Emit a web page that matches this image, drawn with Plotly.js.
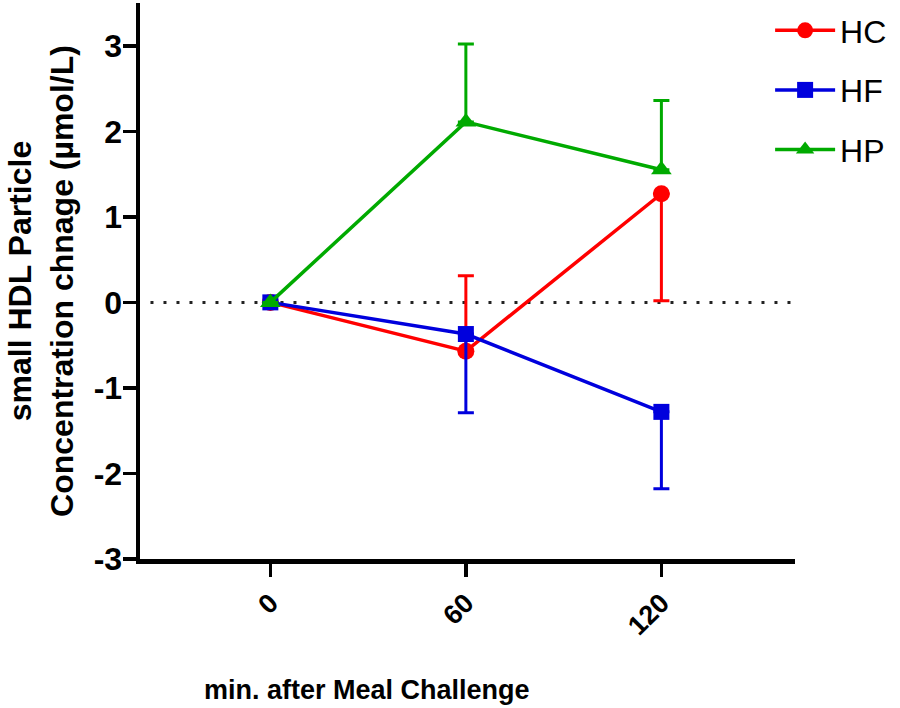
<!DOCTYPE html>
<html>
<head>
<meta charset="utf-8">
<script src="https://cdn.plot.ly/plotly-3.0.1.min.js"></script>
<style>
  html, body { margin: 0; padding: 0; background: #fff; }
  #chart { width: 900px; height: 708px; }
</style>
</head>
<body>
<div id="chart"></div>
<script>
// minutes after the meal challenge
const minutes = [0, 60, 120]
const xTickText = ['0', '60', '120']
const yTickVals = [-3, -2, -1, 0, 1, 2, 3]
const yTickText = ['-3', '-2', '-1', '0', '1', '2', '3']

// mean change and one-sided error bars (µmol/L)
const hcMean = [0, -0.57, 1.27]
const hcPlus = [0, 0.88, 0]
const hcMinus = [0, 0, 1.25]

const hfMean = [0, -0.37, -1.28]
const hfPlus = [0, 0, 0]
const hfMinus = [0, 0.92, 0.9]

const hpMean = [0, 2.11, 1.55]
const hpPlus = [0, 0.91, 0.81]
const hpMinus = [0, 0, 0]

const arial = '"Liberation Sans", Arial, sans-serif'

const makeTrace = (name, y, plus, minus, color, symbol, size) => ({
  x: minutes,
  y,
  name,
  legendgroup: name,
  type: 'scatter',
  mode: 'lines+markers',
  line: { color, width: 3.5 },
  marker: { color, symbol, size },
  error_y: {
    type: 'data',
    symmetric: false,
    array: plus,
    arrayminus: minus,
    color,
    thickness: 3,
    width: 8,
  },
})

const data = [
  makeTrace('HC', hcMean, hcPlus, hcMinus, '#ff0000', 'circle', 17),
  makeTrace('HF', hfMean, hfPlus, hfMinus, '#0000dd', 'square', 16),
  makeTrace('HP', hpMean, hpPlus, hpMinus, '#00aa00', 'triangle-up', 18),
]

const layout = {
  width: 900,
  height: 708,
  margin: { l: 140, r: 105, t: 3, b: 149 },
  paper_bgcolor: '#fff',
  plot_bgcolor: '#fff',
  showlegend: true,
  legend: {
    x: 0.962,
    xanchor: 'left',
    y: 1.0,
    yanchor: 'top',
    font: { family: arial, size: 32, color: '#000' },
    itemwidth: 60,
    tracegroupgap: 15,
    bgcolor: 'rgba(0,0,0,0)',
  },
  xaxis: {
    range: [-40, 161],
    tickvals: minutes,
    ticktext: xTickText,
    tickangle: -45,
    ticks: 'outside',
    ticklen: 13,
    tickwidth: 3.5,
    tickcolor: '#000',
    showline: true,
    linewidth: 4.5,
    linecolor: '#000',
    showgrid: false,
    zeroline: false,
    tickfont: { family: arial, size: 27, weight: 'bold', color: '#000' },
  },
  yaxis: {
    range: [-3, 3.5],
    tickvals: yTickVals,
    ticktext: yTickText,
    ticks: 'outside',
    ticklen: 13,
    tickwidth: 3.5,
    tickcolor: '#000',
    ticklabelstandoff: -6,
    showline: true,
    linewidth: 4.5,
    linecolor: '#000',
    showgrid: false,
    zeroline: false,
    tickfont: { family: arial, size: 32, weight: 'bold', color: '#000' },
    title: {
      text: 'small HDL Particle<br>Concentration chnage (µmol/L)',
      font: { family: arial, size: 32, weight: 'bold', color: '#000' },
      standoff: 12,
    },
  },
  shapes: [
    {
      type: 'line',
      xref: 'paper',
      yref: 'y',
      x0: 0.016,
      x1: 1,
      y0: 0,
      y1: 0,
      layer: 'below',
      line: { color: '#222', width: 3, dash: '3px,10px' },
    },
  ],
  annotations: [
    {
      text: 'min. after Meal Challenge',
      xref: 'paper',
      yref: 'paper',
      x: 0.347,
      y: -0.236,
      xanchor: 'center',
      yanchor: 'middle',
      showarrow: false,
      font: { family: arial, size: 27, weight: 'bold', color: '#000' },
    },
  ],
}

const config = {
  displayModeBar: false,
  staticPlot: true,
}

Plotly.newPlot('chart', data, layout, config)
</script>
</body>
</html>
